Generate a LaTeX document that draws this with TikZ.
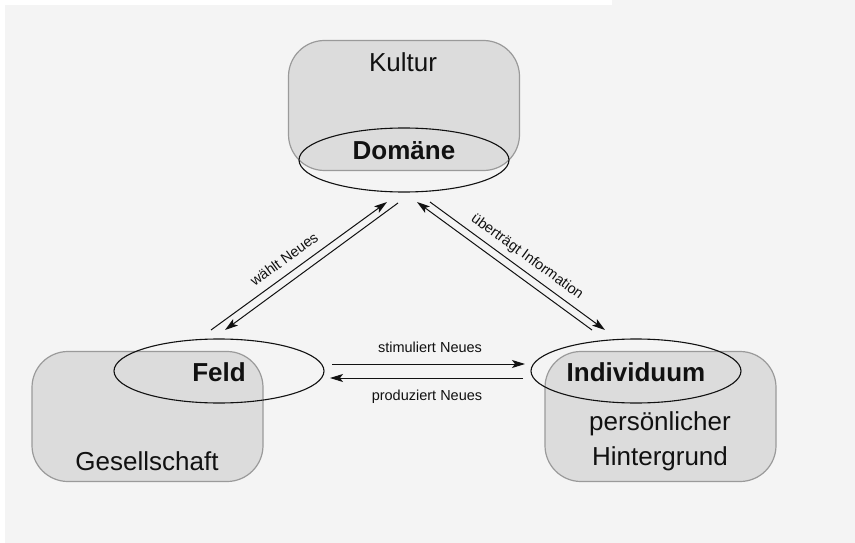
\documentclass[tikz,border=0pt]{standalone}
\usepackage{fontspec}
\setmainfont{Liberation Sans}
\usetikzlibrary{shapes.geometric,arrows.meta}
\definecolor{pagebg}{HTML}{F4F4F4}
\definecolor{boxfill}{HTML}{DCDCDC}
\definecolor{boxline}{HTML}{9A9A9A}
\definecolor{ink}{HTML}{111111}
\tikzset{
  area/.style={draw=boxline, fill=boxfill, line width=1.2pt, rounded corners=36pt,
    minimum width=231pt, minimum height=130pt, inner sep=0pt},
  core/.style={ellipse, draw=ink, line width=1.1pt, minimum width=210pt,
    minimum height=64pt, inner sep=0pt},
  bigtext/.style={font=\fontsize{26}{30}\selectfont, text=ink, anchor=base, inner sep=0pt},
  boldtext/.style={font=\fontsize{26}{30}\selectfont\bfseries, text=ink, anchor=base, inner sep=0pt},
  flowtext/.style={font=\fontsize{14.5}{17}\selectfont, text=ink, inner sep=0pt},
  flow/.style={draw=ink, line width=1pt, -{Stealth[length=13pt,width=8pt,inset=3pt]}}
}
\begin{document}
\begin{tikzpicture}[x=1pt,y=-1pt]
  % page background
  \useasboundingbox (0,0) rectangle (855,543);
  \fill[pagebg] (0,0) rectangle (855,543);
  \fill[white] (0,0) rectangle (612,5);
  \fill[white] (0,0) rectangle (5,543);

  % the three areas
  \node[area] (kultur) at (404,105.5) {};
  \node[area] (gesell) at (147.5,416.5) {};
  \node[area] (hinter) at (660.5,416.5) {};

  % the three cores drawn over them
  \node[core] (domaene) at (404,160) {};
  \node[core] (feld) at (219,371) {};
  \node[core] (indiv) at (636,371) {};

  % texts
  \node[bigtext] (tKultur) at (403,71.5) {Kultur};
  \node[boldtext] (tDomaene) at (404,159.5) {Domäne};
  \node[boldtext] (tFeld) at (219,381.5) {Feld};
  \node[bigtext] (tGesell) at (147,470) {Gesellschaft};
  \node[boldtext] (tIndiv) at (636,381) {Individuum};
  \node[bigtext] (tPers) at (660,430) {persönlicher};
  \node[bigtext] (tHinter) at (660,465) {Hintergrund};

  % connector end points
  \coordinate (fA) at (211,330);
  \coordinate (dA) at (387,202);
  \coordinate (dB) at (398,203);
  \coordinate (fB) at (225,330);
  \coordinate (dC) at (430,202);
  \coordinate (iC) at (605,330);
  \coordinate (iD) at (592,330);
  \coordinate (dD) at (417,202);
  \coordinate (fE) at (332,364);
  \coordinate (iE) at (525,364);
  \coordinate (iF) at (523,378);
  \coordinate (fF) at (330,378);

  % connectors
  \draw[flow] (fA) -- (dA);
  \draw[flow] (dB) -- (fB);
  \draw[flow] (dC) -- (iC);
  \draw[flow] (iD) -- (dD);
  \draw[flow] (fE) -- (iE);
  \draw[flow] (iF) -- (fF);

  % connector labels
  \node[flowtext, rotate=36] (lWaehlt) at (284,259) {wählt Neues};
  \node[flowtext, rotate=-36] (lUeber) at (527,257) {überträgt Information};
  \node[flowtext, anchor=base] (lStim) at (430,352) {stimuliert Neues};
  \node[flowtext, anchor=base] (lProd) at (427,400) {produziert Neues};
\end{tikzpicture}
\end{document}
